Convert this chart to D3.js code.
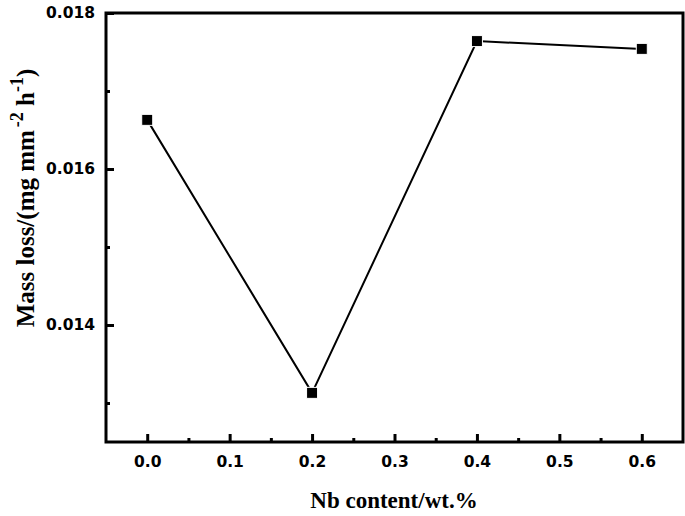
<!DOCTYPE html>
<html>
<head>
  <meta charset="utf-8" />
  <title>Mass loss vs Nb content</title>
  <script src="https://d3js.org/d3.v7.min.js"></script>
  <style>
    body {
      margin: 0;
      background: #fff;
    }

    svg {
      display: block;
    }
  </style>
</head>
<body>

<svg></svg>

<script>
  // data
  const nbContent = [0.0, 0.2, 0.4, 0.6];
  const massLoss = [0.01663, 0.01313, 0.01764, 0.01754];

  const xTicks = [0.0, 0.1, 0.2, 0.3, 0.4, 0.5, 0.6];
  const xMinorTicks = [0.05, 0.15, 0.25, 0.35, 0.45, 0.55];
  const yTicks = [0.014, 0.016, 0.018];
  const yMinorTicks = [0.013, 0.015, 0.017];

  const width = 685,
        height = 516;

  const margin = { top: 13, right: 2, bottom: 74, left: 106 };

  const tickFont = "'DejaVu Sans', Arial, sans-serif";
  const titleFont = "'Liberation Serif', 'Times New Roman', serif";

  const svg = d3.select("svg")
    .attr("width", width)
    .attr("height", height);

  const x = d3.scaleLinear()
    .domain([-0.05, 0.65])
    .range([margin.left, width - margin.right]);

  const y = d3.scaleLinear()
    .domain([0.0125, 0.018])
    .range([height - margin.bottom, margin.top]);

  const g = svg.append("g");

  // frame
  g.append("rect")
    .attr("x", x(-0.05))
    .attr("y", y(0.018))
    .attr("width", x(0.65) - x(-0.05))
    .attr("height", y(0.0125) - y(0.018))
    .attr("fill", "none")
    .attr("stroke", "#000")
    .attr("stroke-width", 3);

  function styleAxis(sel) {
    sel.attr("font-family", tickFont)
      .attr("font-size", 15.5)
      .attr("font-weight", "bold");
    sel.select(".domain").remove();
    sel.selectAll(".tick line").attr("stroke", "#000").attr("stroke-width", 3);
    sel.selectAll(".tick text").attr("fill", "#000");
  }

  // bottom axis ticks (pointing inward)
  g.append("g")
    .attr("transform", `translate(0,${y(0.0125)})`)
    .call(d3.axisBottom(x).tickValues(xTicks).tickSize(-8).tickPadding(14).tickFormat(d3.format(".1f")))
    .call(styleAxis);

  g.append("g")
    .attr("transform", `translate(0,${y(0.0125)})`)
    .call(d3.axisBottom(x).tickValues(xMinorTicks).tickSize(-4).tickFormat(""))
    .call(styleAxis);

  // left axis ticks (pointing inward)
  g.append("g")
    .attr("transform", `translate(${x(-0.05)},0)`)
    .call(d3.axisLeft(y).tickValues(yTicks).tickSize(-8).tickPadding(11).tickFormat(d3.format(".3f")))
    .call(styleAxis);

  g.append("g")
    .attr("transform", `translate(${x(-0.05)},0)`)
    .call(d3.axisLeft(y).tickValues(yMinorTicks).tickSize(-4).tickFormat(""))
    .call(styleAxis);

  // series
  const points = nbContent.map((d, i) => ({ x: d, y: massLoss[i] }));

  g.append("path")
    .datum(points)
    .attr("fill", "none")
    .attr("stroke", "#000")
    .attr("stroke-width", 2)
    .attr("d", d3.line().x(d => x(d.x)).y(d => y(d.y)));

  g.selectAll(".marker")
    .data(points)
    .enter().append("rect")
    .attr("class", "marker")
    .attr("x", d => x(d.x) - 5.5)
    .attr("y", d => y(d.y) - 5.5)
    .attr("width", 11)
    .attr("height", 11)
    .attr("fill", "#000")
    .attr("stroke", "#fff")
    .attr("stroke-width", 1);

  // axis titles
  svg.append("text")
    .attr("x", 394)
    .attr("y", 508)
    .attr("text-anchor", "middle")
    .attr("font-family", titleFont)
    .attr("font-size", 23)
    .attr("font-weight", "bold")
    .text("Nb content/wt.%");

  const yTitle = svg.append("text")
    .attr("transform", "translate(34,198) rotate(-90)")
    .attr("text-anchor", "middle")
    .attr("font-family", titleFont)
    .attr("font-size", 25)
    .attr("font-weight", "bold");
  yTitle.append("tspan").text("Mass loss/(mg mm");
  yTitle.append("tspan").attr("dx", 3).attr("dy", -11).attr("font-size", 18).text("-2");
  yTitle.append("tspan").attr("dy", 11).text(" h");
  yTitle.append("tspan").attr("dy", -11).attr("font-size", 18).text("-1");
  yTitle.append("tspan").attr("dy", 11).text(")");
</script>

</body>
</html>
